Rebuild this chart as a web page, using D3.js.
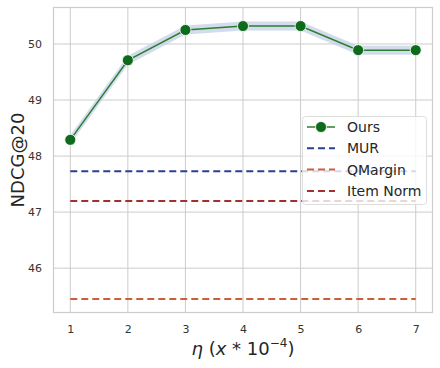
<!DOCTYPE html>
<html>
<head>
<meta charset="utf-8">
<script src="https://cdn.jsdelivr.net/npm/d3@7"></script>
<style>
  body { margin: 0; background: #fff; }
  text { font-family: "DejaVu Sans", sans-serif; }
</style>
</head>
<body>
<svg id="chart" width="440" height="368"></svg>
<script>
// values
var etas = [1, 2, 3, 4, 5, 6, 7];
var ours = [48.29, 49.71, 50.25, 50.32, 50.32, 49.89, 49.89];
var oursBand = 0.08; // half-width of the shaded band
var baselines = [
  {name: "MUR", value: 47.73, color: "#2b3f91"},
  {name: "QMargin", value: 45.45, color: "#c8613a"},
  {name: "Item Norm", value: 47.2, color: "#a3302f"}
];
var yTicks = [46, 47, 48, 49, 50];

var svg = d3.select("#chart");
var m = {left: 53, right: 433, top: 7, bottom: 313};

var x = d3.scaleLinear().domain([0.7, 7.3]).range([m.left, m.right]);
var y = d3.scaleLinear().domain([45.2, 50.66]).range([m.bottom, m.top]);

// grid
var grid = svg.append("g");
etas.forEach(function(d){
  grid.append("line").attr("x1", x(d)).attr("x2", x(d))
    .attr("y1", m.top).attr("y2", m.bottom)
    .attr("stroke", "#cccccc").attr("stroke-width", 1);
});
yTicks.forEach(function(d){
  grid.append("line").attr("x1", m.left).attr("x2", m.right)
    .attr("y1", y(d)).attr("y2", y(d))
    .attr("stroke", "#cccccc").attr("stroke-width", 1);
});

// axes (only labels, seaborn whitegrid style)
var xAxis = svg.append("g").attr("transform", "translate(0," + m.bottom + ")")
  .call(d3.axisBottom(x).tickValues(etas).tickFormat(d3.format("d")).tickSize(0).tickPadding(12));
var yAxis = svg.append("g").attr("transform", "translate(" + m.left + ",0)")
  .call(d3.axisLeft(y).tickValues(yTicks).tickFormat(d3.format("d")).tickSize(0).tickPadding(11));
[xAxis, yAxis].forEach(function(a){
  a.select(".domain").remove();
  a.selectAll("text").attr("font-size", 11).attr("fill", "#333")
    .attr("font-family", "DejaVu Sans, sans-serif");
});

// frame
svg.append("rect").attr("x", m.left + 0.5).attr("y", m.top + 0.5)
  .attr("width", m.right - m.left - 1).attr("height", m.bottom - m.top - 1)
  .attr("fill", "none").attr("stroke", "#cccccc").attr("stroke-width", 1.2);

// band + line for Ours
var area = d3.area().x(function(d, i){ return x(etas[i]); })
  .y0(function(d){ return y(d - oursBand); })
  .y1(function(d){ return y(d + oursBand); });
svg.append("path").datum(ours).attr("d", area)
  .attr("fill", "#c3d0e6").attr("opacity", 0.75);

var line = d3.line().x(function(d, i){ return x(etas[i]); }).y(function(d){ return y(d); });
svg.append("path").datum(ours).attr("d", line)
  .attr("fill", "none").attr("stroke", "#2e7d32").attr("stroke-width", 1.5);

// baselines
baselines.forEach(function(b){
  svg.append("line").attr("x1", x(1)).attr("x2", x(7))
    .attr("y1", y(b.value)).attr("y2", y(b.value))
    .attr("stroke", b.color).attr("stroke-width", 2)
    .attr("stroke-dasharray", "7,4");
});

svg.selectAll("circle.pt").data(ours).enter().append("circle")
  .attr("class", "pt")
  .attr("cx", function(d, i){ return x(etas[i]); })
  .attr("cy", function(d){ return y(d); })
  .attr("r", 5.5).attr("fill", "#0e6b1c")
  .attr("stroke", "#fff").attr("stroke-width", 0.8);

// legend
var lg = svg.append("g").attr("transform", "translate(302,116)");
lg.append("rect").attr("x", 0.5).attr("y", 0.5).attr("width", 124).attr("height", 88)
  .attr("rx", 3).attr("fill", "#fff").attr("fill-opacity", 0.8)
  .attr("stroke", "#dddddd");
var items = [{name: "Ours", color: "#2e7d32", marker: true}].concat(baselines);
items.forEach(function(it, i){
  var yy = 11 + i * 21.3;
  var row = lg.append("g").attr("transform", "translate(0," + yy + ")");
  row.append("line").attr("x1", 5).attr("x2", 33).attr("y1", 0).attr("y2", 0)
    .attr("stroke", it.color).attr("stroke-width", it.marker ? 1.5 : 2)
    .attr("stroke-dasharray", it.marker ? null : "7,4");
  if (it.marker) {
    row.append("circle").attr("cx", 19).attr("cy", 0).attr("r", 5.5)
      .attr("fill", "#0e6b1c").attr("stroke", "#fff").attr("stroke-width", 0.8);
  }
  row.append("text").attr("x", 45).attr("y", 0).attr("dy", "0.36em")
    .attr("font-size", 14).attr("fill", "#262626").text(it.name);
});

// axis titles
svg.append("text").attr("transform", "translate(24," + ((m.top + m.bottom) / 2) + ") rotate(-90)")
  .attr("text-anchor", "middle").attr("font-size", 18).attr("fill", "#262626")
  .text("NDCG@20");

var xl = svg.append("text").attr("x", (m.left + m.right) / 2).attr("y", 355)
  .attr("text-anchor", "middle").attr("font-size", 18).attr("fill", "#262626");
xl.append("tspan").attr("font-style", "italic").text("η");
xl.append("tspan").text(" (");
xl.append("tspan").attr("font-style", "italic").text("x");
xl.append("tspan").text(" * 10");
xl.append("tspan").attr("font-size", 12).attr("dy", -8).text("−4");
xl.append("tspan").attr("dy", 8).text(")");
</script>
</body>
</html>
